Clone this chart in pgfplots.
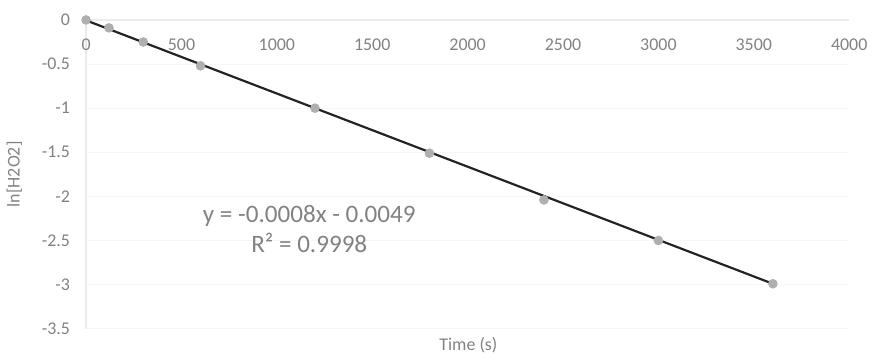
\documentclass[border=0pt]{standalone}
\usepackage{fontspec}
\setmainfont{Carlito}
\usepackage{pgfplots}
\pgfplotsset{compat=1.18}
\definecolor{txt}{RGB}{130,130,130}
\definecolor{mk}{RGB}{175,175,175}
\definecolor{ln}{RGB}{35,35,35}
\begin{document}
\begin{tikzpicture}
\begin{axis}[name=ax, scale only axis, width=383pt, height=155pt,
  xmin=0, xmax=4000, ymin=-3.5, ymax=0,
  axis x line*=top, axis y line*=left,
  axis line style={draw=black!8, line width=0.6pt},
  xtick={0,500,...,4000}, ytick={-3.5,-3,...,0},
  major tick length=0pt,
  ymajorgrids, grid style={draw=black!3, line width=0.5pt},
  /pgf/number format/assume math mode=true,
  /pgf/number format/1000 sep={},
  ticklabel style={font=\fontsize{9}{10}\selectfont, text=txt},
  xticklabel style={anchor=center, yshift=-12.5pt},
  yticklabel style={anchor=east, xshift=-4.5pt},
  xlabel={Time (s)}, ylabel={ln[H2O2]},
  label style={font=\fontsize{9}{10}\selectfont, text=txt},
  xlabel style={at={(axis description cs:0.501,-0.052)}, anchor=center},
  ylabel style={at={(axis description cs:-0.094,0.5)}, anchor=center},
  clip=false]
\addplot[mk, only marks, mark=*, mark size=2.2pt, mark options={draw=mk, fill=mk}]
  coordinates {(0,0) (120,-0.09) (300,-0.25) (600,-0.52) (1200,-1.0) (1800,-1.51) (2400,-2.04) (3000,-2.5) (3600,-2.99)};
\addplot[ln, line width=1.1pt] coordinates {(0,-0.005) (3600,-2.99)};
\node[text=txt, font=\fontsize{12.6}{14}\selectfont] at (axis cs:1170,-2.216) {y = -0.0008x - 0.0049};
\node[text=txt, font=\fontsize{12.6}{14}\selectfont] at (axis cs:1170,-2.53) {R² = 0.9998};
\end{axis}
\path[use as bounding box] (ax.south west) ++(-43pt,-13pt) rectangle ++(437pt,178pt);
\end{tikzpicture}
\end{document}
